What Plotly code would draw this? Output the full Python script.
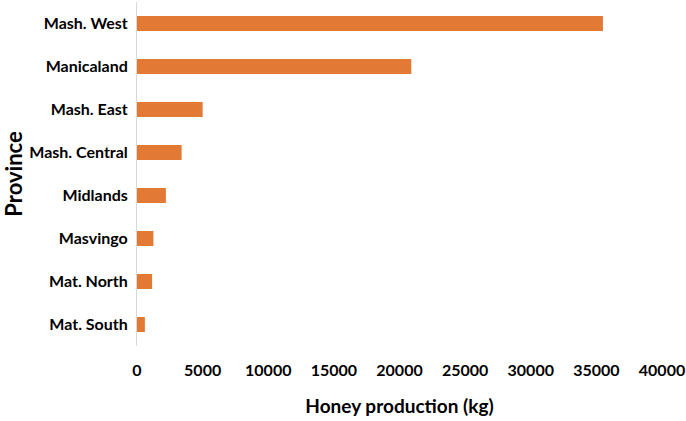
import plotly.graph_objects as go

provinces = ["Mash. West", "Manicaland", "Mash. East", "Mash. Central",
             "Midlands", "Masvingo", "Mat. North", "Mat. South"]
production_kg = [35500, 20900, 5000, 3400, 2200, 1250, 1150, 600]
x_ticks = [0, 5000, 10000, 15000, 20000, 25000, 30000, 35000, 40000]

font_family = "Lato, 'Open Sans', sans-serif"

fig = go.Figure(go.Bar(
    x=production_kg,
    y=provinces,
    orientation="h",
    marker=dict(color="#E27A36", line=dict(width=0)),
))

fig.update_layout(
    width=686, height=421,
    margin=dict(l=137, r=24, t=2, b=75),
    paper_bgcolor="white", plot_bgcolor="white",
    bargap=0.65,
    showlegend=False,
    font=dict(family=font_family, color="black"),
)

fig.update_xaxes(
    range=[0, 40000],
    tickvals=x_ticks,
    ticktext=[str(v) for v in x_ticks],
    showgrid=False, zeroline=False, showline=False,
    ticks="outside", ticklen=10, tickcolor="rgba(0,0,0,0)",
    tickfont=dict(size=16, family=font_family, weight="bold", color="black"),
    title=dict(text="Honey production (kg)", standoff=21,
               font=dict(size=19, family=font_family, weight="bold", color="black")),
)

fig.update_yaxes(
    categoryorder="array",
    categoryarray=provinces[::-1],
    showgrid=False, zeroline=False,
    showline=True, linecolor="#D9D9D9", linewidth=1,
    ticks="outside", ticklen=5, tickcolor="rgba(0,0,0,0)",
    tickfont=dict(size=16, family=font_family, weight="bold", color="black"),
    title=dict(text="Province", standoff=10,
               font=dict(size=22, family=font_family, weight="bold", color="black")),
)

fig.write_html("out.html")
